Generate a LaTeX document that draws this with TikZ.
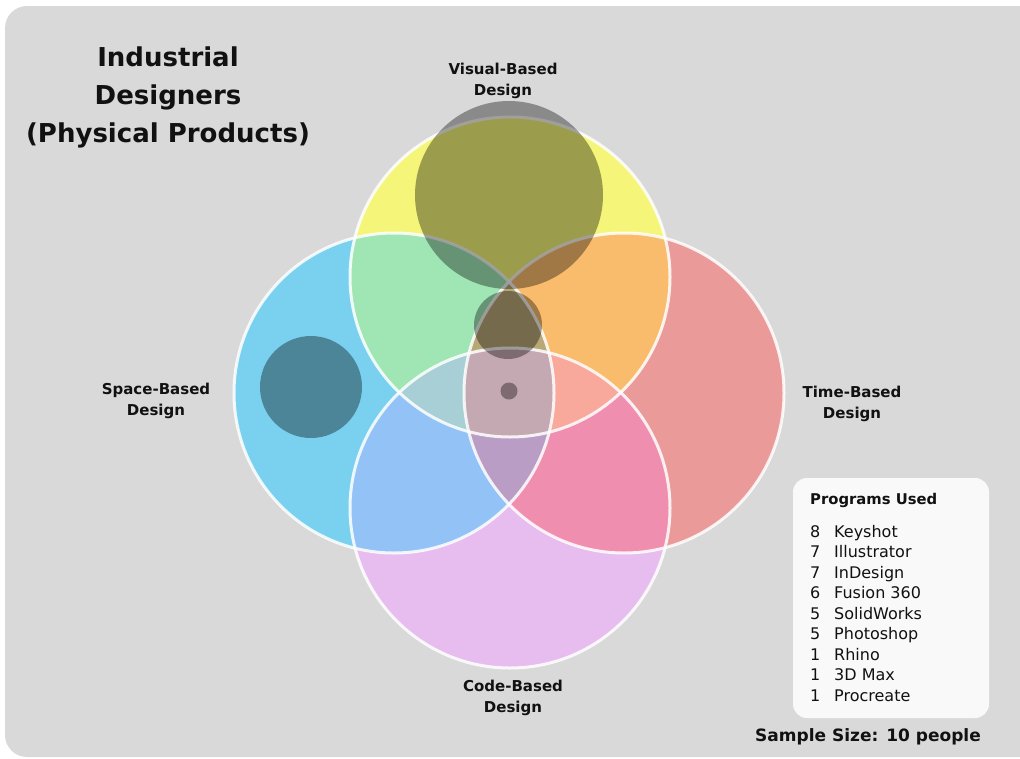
\documentclass[tikz,border=0pt]{standalone}
\usepackage{fontspec}
\setmainfont{DejaVu Sans}
\usetikzlibrary{positioning}

\definecolor{bggray}{HTML}{D9D9D9}
\definecolor{boxwhite}{HTML}{F9F9F9}
\definecolor{inkblack}{HTML}{111111}
\definecolor{cY}{HTML}{F5F57A}
\definecolor{cB}{HTML}{79D1EF}
\definecolor{cR}{HTML}{EA9A98}
\definecolor{cP}{HTML}{E7BCEE}
\definecolor{cYB}{HTML}{A0E6B4}
\definecolor{cYR}{HTML}{F9BC6C}
\definecolor{cYP}{HTML}{C4A8B2}
\definecolor{cBR}{HTML}{C4A8B2}
\definecolor{cBP}{HTML}{93C3F6}
\definecolor{cRP}{HTML}{F08EB0}
\definecolor{cYBR}{HTML}{B8A878}
\definecolor{cYBP}{HTML}{A8CFD5}
\definecolor{cYRP}{HTML}{F8A99B}
\definecolor{cBRP}{HTML}{B99DC4}
\definecolor{cAll}{HTML}{C4A8B2}

\newcommand{\venn}[1]{(#1) circle[radius=160]}

\begin{document}
\begin{tikzpicture}[
    x=1pt, y=-1pt,
    ring/.style={line width=3pt, draw=white, draw opacity=0.85},
    shade/.style={fill=black, fill opacity=0.36},
    title/.style={font=\bfseries\fontsize{26}{38}\selectfont, align=center, text=inkblack},
    setname/.style={font=\bfseries\fontsize{15}{21}\selectfont, align=center, text=inkblack},
    item/.style={font=\fontsize{16}{20}\selectfont, anchor=base west, inner sep=0pt, text=inkblack}
]
    \useasboundingbox (0,0) rectangle (1020,758);
    \fill[bggray, rounded corners=22pt] (5,6) rectangle (1045,757);

    % Set centres
    \coordinate (vis) at (510,277);
    \coordinate (spa) at (394,393);
    \coordinate (tim) at (624,393);
    \coordinate (cod) at (510,508);

    % Single sets
    \fill[cY] \venn{vis};
    \fill[cB] \venn{spa};
    \fill[cR] \venn{tim};
    \fill[cP] \venn{cod};

    % Pairs
    \begin{scope}
        \clip \venn{vis};
        \fill[cYB] \venn{spa};
        \fill[cYR] \venn{tim};
        \fill[cYP] \venn{cod};
    \end{scope}
    \begin{scope}
        \clip \venn{spa};
        \fill[cBR] \venn{tim};
        \fill[cBP] \venn{cod};
    \end{scope}
    \begin{scope}
        \clip \venn{tim};
        \fill[cRP] \venn{cod};
    \end{scope}

    % Triples
    \begin{scope}
        \clip \venn{vis}; \clip \venn{spa};
        \fill[cYBR] \venn{tim};
        \fill[cYBP] \venn{cod};
    \end{scope}
    \begin{scope}
        \clip \venn{vis}; \clip \venn{tim};
        \fill[cYRP] \venn{cod};
    \end{scope}
    \begin{scope}
        \clip \venn{spa}; \clip \venn{tim};
        \fill[cBRP] \venn{cod};
    \end{scope}

    % All four
    \begin{scope}
        \clip \venn{vis}; \clip \venn{spa}; \clip \venn{tim};
        \fill[cAll] \venn{cod};
    \end{scope}

    % Outlines
    \foreach \c in {vis,spa,tim,cod}
        \draw[ring] \venn{\c};

    % Respondent clusters
    \fill[shade] (509,195) circle[radius=94];
    \fill[shade] (508,325) circle[radius=34];
    \fill[shade] (311,387) circle[radius=51];
    \fill[shade] (509,391) circle[radius=8.5];

    % Labels
    \node[title] (heading) at (168,97) {Industrial\\Designers\\(Physical Products)};
    \node[setname] (visual) at (503,81) {Visual-Based\\Design};
    \node[setname] (space) at (156,401) {Space-Based\\Design};
    \node[setname] (time) at (852,404) {Time-Based\\Design};
    \node[setname] (code) at (513,698) {Code-Based\\Design};

    % Legend
    \node[fill=boxwhite, rounded corners=14pt, minimum width=196, minimum height=240] (legend) at (891,598) {};
    \node[font=\bfseries\fontsize{14.8}{20}\selectfont, anchor=base west, inner sep=0pt, text=inkblack] (progs) at (810,504) {Programs Used};
    \foreach \n/\prog [count=\i] in {8/Keyshot, 7/Illustrator, 7/InDesign, 6/Fusion 360, 5/SolidWorks, 5/Photoshop, 1/Rhino, 1/3D Max, 1/Procreate} {
        \node[item] (num\i) at (810,{537+20.5*(\i-1)}) {\n};
        \node[item] (prog\i) at (834,{537+20.5*(\i-1)}) {\prog};
    }

    \node[font=\bfseries\fontsize{17}{22}\selectfont, text=inkblack] (sample) at (868,737) {Sample Size: 10 people};
\end{tikzpicture}
\end{document}
